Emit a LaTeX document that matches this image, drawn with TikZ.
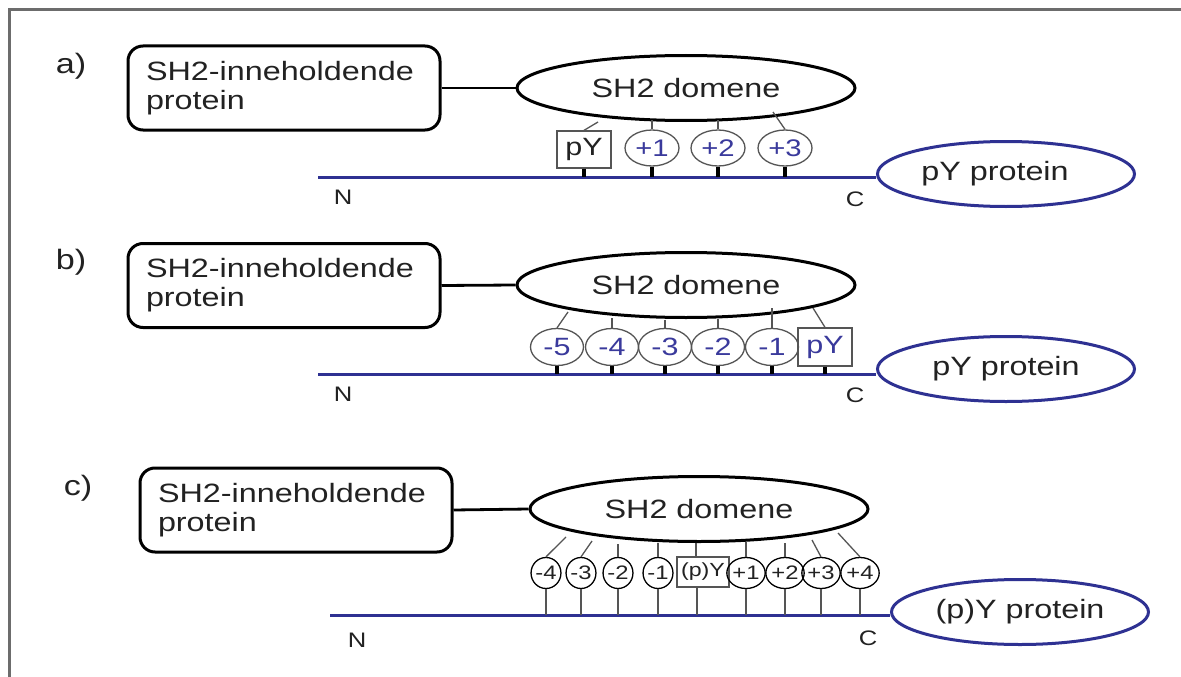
\documentclass[tikz,border=0pt]{standalone}
\usepackage{fontspec}
\setmainfont[FakeStretch=1.22]{Liberation Sans}
\usetikzlibrary{shapes.geometric}
\definecolor{pblue}{HTML}{2E3192}
\definecolor{lblue}{HTML}{3A3A9C}
\definecolor{tgray}{HTML}{222222}
\definecolor{lgray}{HTML}{555555}
\tikzset{
  frm/.style={draw=gray!85!black, line width=2.5pt},
  protbox/.style={draw=black, line width=3pt, rounded corners=15pt, minimum width=312pt, minimum height=84pt, text width=276pt, align=left, inner sep=0pt, text=tgray, font=\fontsize{26.5}{29}\selectfont},
  sh2dom/.style={ellipse, draw=black, line width=3pt, minimum width=338pt, minimum height=65pt, inner sep=0pt, text=tgray, font=\fontsize{26.5}{29}\selectfont},
  pyprot/.style={ellipse, draw=pblue, line width=3pt, minimum width=257pt, minimum height=65pt, inner sep=0pt, text=tgray, font=\fontsize{26.5}{29}\selectfont},
  linkline/.style={draw=black, line width=2.8pt},
  protline/.style={draw=pblue, line width=3pt},
  stemthick/.style={draw=black, line width=3.5pt},
  thinline/.style={draw=lgray, line width=1.3pt},
  lab/.style={text=tgray, font=\fontsize{28}{30}\selectfont, inner sep=0pt},
  termlab/.style={text=tgray, font=\fontsize{21}{23}\selectfont, inner sep=0pt},
  circA/.style={ellipse, draw=lgray, line width=1.3pt, minimum width=54pt, minimum height=36pt, inner sep=0pt, text=lblue, font=\fontsize{24}{26}\selectfont},
  boxA/.style={rectangle, draw=lgray, line width=1.3pt, minimum width=54pt, minimum height=37pt, inner sep=0pt, text=tgray, font=\fontsize{25}{27}\selectfont},
  circB/.style={ellipse, draw=lgray, line width=1.3pt, minimum width=53pt, minimum height=37pt, inner sep=0pt, text=lblue, font=\fontsize{25}{27}\selectfont},
  boxB/.style={rectangle, draw=lgray, line width=1.3pt, minimum width=54pt, minimum height=38pt, inner sep=0pt, text=lblue, font=\fontsize{25}{27}\selectfont},
  circC/.style={ellipse, draw=black, line width=1.3pt, minimum width=27pt, minimum height=31pt, inner sep=0pt, text=tgray, font=\fontsize{19.5}{22}\selectfont},
  boxC/.style={rectangle, draw=lgray, line width=1.3pt, minimum width=52pt, minimum height=30pt, inner sep=0pt, text=tgray, font=\fontsize{19}{22}\selectfont},
}
\begin{document}
\begin{tikzpicture}[x=1pt, y=-1pt]
\useasboundingbox (0,0) rectangle (1181,677);
\fill[white] (0,0) rectangle (1181,677);
\draw[frm] (9.5,677) -- (9.5,9.5) -- (1181,9.5);

% ---------- panel a ----------
\node[lab] (la) at (71,66) {a)};
\node[protbox] (pa) at (284,88) {SH2-inneholdende\\protein};
\node[sh2dom] (da) at (686,88) {SH2 domene};
\draw[linkline] (pa.east) -- (da.west);
\node[pyprot] (ta) at (1006,174) {\hspace*{-22pt}pY protein};
\coordinate (Na) at (318,177);
\draw[protline] (Na) -- (Na -| ta.west);
\node[termlab] (na) at (343,197) {N};
\node[termlab] (ca) at (855,199) {C};

\node[boxA] (a0) at (584,149.5) {pY};
\node[circA] (a1) at (652,148) {+1};
\node[circA] (a2) at (718,148) {+2};
\node[circA] (a3) at (785,148) {+3};
\coordinate (a0t) at (598,122);
\coordinate (a1t) at (652,120);
\coordinate (a2t) at (718,120);
\coordinate (a3t) at (773,112);
\draw[thinline] (a0t) -- (a0.north);
\draw[thinline] (a1t) -- (a1.north);
\draw[thinline] (a2t) -- (a2.north);
\draw[thinline] (a3t) -- (a3.north);
\foreach \n in {a0,a1,a2,a3}{
  \draw[stemthick] (\n.south) -- (\n.south |- Na);
}

% ---------- panel b ----------
\node[lab] (lb) at (71,262) {b)};
\node[protbox] (pb) at (284,285.5) {SH2-inneholdende\\protein};
\node[sh2dom] (db) at (686,285) {SH2 domene};
\draw[linkline] (pb.east) -- (db.west);
\node[pyprot] (tb) at (1006,369) {pY protein};
\coordinate (Nb) at (318,374);
\draw[protline] (Nb) -- (Nb -| tb.west);
\node[termlab] (nb) at (343,394) {N};
\node[termlab] (cb) at (855,395) {C};

\node[circB] (b5) at (557,347) {-5};
\node[circB] (b4) at (612,347) {-4};
\node[circB] (b3) at (665,347) {-3};
\node[circB] (b2) at (718,347) {-2};
\node[circB] (b1) at (772,347) {-1};
\node[boxB] (bp) at (825,347) {pY};
\coordinate (b5t) at (568,312);
\coordinate (b4t) at (612,318);
\coordinate (b3t) at (665,320);
\coordinate (b2t) at (718,319);
\coordinate (b1t) at (772,308);
\coordinate (bpt) at (813,308);
\foreach \n in {b5,b4,b3,b2,b1,bp}{
  \draw[thinline] (\n t) -- (\n.north);
  \draw[stemthick] (\n.south) -- (\n.south |- Nb);
}

% ---------- panel c ----------
\node[lab] (lc) at (78,488) {c)};
\node[protbox] (pc) at (296,510) {SH2-inneholdende\\protein};
\node[sh2dom] (dc) at (699,509) {SH2 domene};
\draw[linkline] (pc.east) -- (dc.west);
\node[pyprot] (tc) at (1020,612) {(p)Y protein};
\coordinate (Nc) at (330,615);
\draw[protline] (Nc) -- (Nc -| tc.west);
\node[termlab] (nc) at (357,640) {N};
\node[termlab] (cc) at (868,638) {C};

\node[circC] (cm4) at (546,573) {-4};
\node[circC] (cm3) at (581,573) {-3};
\node[circC] (cm2) at (618,573) {-2};
\node[circC] (cm1) at (658,573) {-1};
\node[boxC] (cp) at (703,572) {(p)Y};
\node[circC] (cp1) at (746,573) {+1};
\node[circC] (cp2) at (785,573) {+2};
\node[circC] (cp3) at (821,573) {+3};
\node[circC] (cp4) at (860,573) {+4};
\coordinate (cm4t) at (566,537);
\coordinate (cm3t) at (592,541);
\coordinate (cm2t) at (618,544);
\coordinate (cm1t) at (658,543);
\coordinate (cp1t) at (746,542);
\coordinate (cp2t) at (785,543);
\coordinate (cp3t) at (812,540);
\coordinate (cp4t) at (838,533);
\foreach \n in {cm4,cm3,cm2,cm1,cp1,cp2,cp3,cp4}{
  \draw[thinline] (\n t) -- (\n.north);
  \draw[thinline] (\n.south) -- (\n.south |- Nc);
}
\coordinate (cpt) at (696,543);
\coordinate (cpb) at (697,615);
\draw[thinline] (cpt) -- (cpt |- cp.north);
\draw[thinline] (cpb |- cp.south) -- (cpb);
\end{tikzpicture}
\end{document}
